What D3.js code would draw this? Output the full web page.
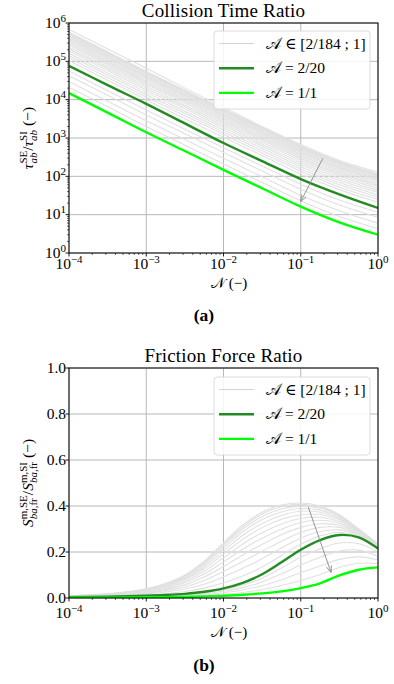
<!DOCTYPE html>
<html>
<head>
<meta charset="utf-8">
<script src="https://cdn.jsdelivr.net/npm/d3@7/dist/d3.min.js"></script>
<style>
  html, body { margin: 0; padding: 0; background: #fff; }
  svg { display: block; font-family: "Liberation Serif", "DejaVu Serif", serif; }
</style>
</head>
<body>
<svg id="fig" width="394" height="684"></svg>
<script>
// ---- Collision time ratio (log-log) ----
const nTop = [1e-4, 3.162e-4, 1e-3, 3.162e-3, 1e-2, 3.162e-2, 1e-1, 3.162e-1, 1];
const tauA2over20 = [7.6e4, 2.4e4, 7.8e3, 2.4e3, 740, 250, 85, 34, 15];
const tauA1over1  = [1.48e4, 4.6e3, 1.41e3, 457, 148, 49, 16.2, 6.3, 3.0];
// grey family, A in [2/184 ; 1], from large A (bottom) to A = 2/184 (top)
const tauFamily = [
  [2.1e4, 6.5e3, 2.0e3, 650, 210, 69, 23, 8.9, 4.3],
  [3.0e4, 9.1e3, 2.8e3, 910, 295, 98, 32, 12.6, 6.0],
  [4.2e4, 1.3e4, 4.0e3, 1.3e3, 420, 138, 46, 17.8, 8.5],
  [5.6e4, 1.7e4, 5.4e3, 1.7e3, 560, 186, 62, 24, 11.5],
  [1.05e5, 3.2e4, 1.0e4, 3.2e3, 1.05e3, 350, 115, 45, 21],
  [1.23e5, 3.8e4, 1.17e4, 3.8e3, 1.23e3, 407, 135, 52, 25],
  [1.41e5, 4.4e4, 1.35e4, 4.4e3, 1.41e3, 470, 155, 60, 29],
  [1.62e5, 5.0e4, 1.55e4, 5.0e3, 1.62e3, 537, 178, 69, 33],
  [1.86e5, 5.8e4, 1.78e4, 5.8e3, 1.86e3, 620, 204, 79, 38],
  [2.09e5, 6.5e4, 2.0e4, 6.5e3, 2.09e3, 692, 229, 89, 43],
  [2.34e5, 7.2e4, 2.24e4, 7.2e3, 2.34e3, 780, 257, 100, 48],
  [2.63e5, 8.1e4, 2.51e4, 8.1e3, 2.63e3, 871, 288, 112, 54],
  [2.88e5, 8.9e4, 2.75e4, 8.9e3, 2.88e3, 955, 316, 123, 59],
  [3.16e5, 9.8e4, 3.0e4, 9.8e3, 3.16e3, 1.05e3, 347, 135, 65],
  [3.47e5, 1.07e5, 3.3e4, 1.07e4, 3.47e3, 1.15e3, 380, 148, 71],
  [3.8e5, 1.17e5, 3.6e4, 1.17e4, 3.8e3, 1.26e3, 417, 162, 78],
  [4.07e5, 1.26e5, 3.9e4, 1.26e4, 4.07e3, 1.35e3, 447, 174, 83],
  [4.37e5, 1.35e5, 4.17e4, 1.35e4, 4.37e3, 1.45e3, 479, 186, 89],
  [4.68e5, 1.45e5, 4.47e4, 1.45e4, 4.68e3, 1.55e3, 513, 200, 95],
  [5.0e5, 1.55e5, 4.8e4, 1.55e4, 5.0e3, 1.66e3, 550, 214, 102],
  [5.25e5, 1.62e5, 5.0e4, 1.62e4, 5.25e3, 1.74e3, 575, 224, 107],
  [5.5e5, 1.7e5, 5.25e4, 1.7e4, 5.5e3, 1.82e3, 603, 234, 112],
  [5.75e5, 1.78e5, 5.5e4, 1.78e4, 5.75e3, 1.9e3, 631, 245, 117],
  [6.8e5, 2.1e5, 6.6e4, 2.0e4, 6.3e3, 2.0e3, 680, 260, 130]
];
const tauArrow = [[0.193, 295], [0.1, 22]];

// ---- Friction force ratio (log-lin), quarter-decade samples ----
const nBot = [1e-4, 1.778e-4, 3.162e-4, 5.623e-4, 1e-3, 1.778e-3, 3.162e-3, 5.623e-3, 1e-2,
              1.778e-2, 3.162e-2, 5.623e-2, 1e-1, 1.778e-1, 3.162e-1, 5.623e-1, 1];
const frA2over20 = [0.004, 0.005, 0.006, 0.008, 0.010, 0.013, 0.018, 0.027, 0.042,
                    0.066, 0.103, 0.155, 0.210, 0.252, 0.274, 0.264, 0.215];
const frA1over1  = [0.001, 0.001, 0.0015, 0.002, 0.003, 0.004, 0.005, 0.007, 0.010,
                    0.014, 0.020, 0.029, 0.043, 0.064, 0.098, 0.123, 0.133];
const frFamily = [
  [0.002, 0.002, 0.002, 0.003, 0.004, 0.006, 0.008, 0.011, 0.016, 0.024, 0.037, 0.054, 0.076, 0.102, 0.133, 0.151, 0.149],
  [0.002, 0.003, 0.003, 0.004, 0.006, 0.008, 0.010, 0.015, 0.023, 0.035, 0.053, 0.079, 0.110, 0.139, 0.168, 0.179, 0.166],
  [0.003, 0.003, 0.004, 0.006, 0.007, 0.009, 0.013, 0.019, 0.029, 0.045, 0.070, 0.105, 0.143, 0.177, 0.204, 0.208, 0.182],
  [0.003, 0.004, 0.005, 0.007, 0.009, 0.011, 0.015, 0.023, 0.036, 0.056, 0.086, 0.130, 0.177, 0.214, 0.239, 0.236, 0.199],
  [0.005, 0.006, 0.007, 0.010, 0.014, 0.019, 0.028, 0.043, 0.066, 0.096, 0.135, 0.185, 0.234, 0.270, 0.285, 0.268, 0.217],
  [0.005, 0.007, 0.009, 0.013, 0.018, 0.026, 0.039, 0.060, 0.092, 0.129, 0.171, 0.217, 0.261, 0.289, 0.296, 0.273, 0.220],
  [0.006, 0.008, 0.010, 0.015, 0.021, 0.032, 0.048, 0.076, 0.115, 0.159, 0.203, 0.247, 0.285, 0.307, 0.307, 0.277, 0.222],
  [0.006, 0.009, 0.012, 0.017, 0.024, 0.037, 0.057, 0.091, 0.137, 0.187, 0.233, 0.275, 0.307, 0.323, 0.316, 0.281, 0.225],
  [0.007, 0.010, 0.013, 0.019, 0.027, 0.042, 0.066, 0.104, 0.157, 0.212, 0.260, 0.299, 0.328, 0.338, 0.325, 0.285, 0.227],
  [0.007, 0.010, 0.014, 0.021, 0.030, 0.047, 0.073, 0.116, 0.175, 0.235, 0.284, 0.322, 0.346, 0.351, 0.333, 0.288, 0.228],
  [0.008, 0.011, 0.015, 0.022, 0.033, 0.051, 0.080, 0.127, 0.191, 0.255, 0.306, 0.342, 0.362, 0.363, 0.340, 0.291, 0.230],
  [0.008, 0.012, 0.016, 0.024, 0.035, 0.054, 0.085, 0.136, 0.204, 0.273, 0.324, 0.359, 0.377, 0.373, 0.346, 0.294, 0.231],
  [0.008, 0.012, 0.017, 0.025, 0.036, 0.057, 0.090, 0.144, 0.216, 0.288, 0.341, 0.374, 0.389, 0.382, 0.351, 0.296, 0.233],
  [0.009, 0.012, 0.017, 0.026, 0.038, 0.060, 0.094, 0.151, 0.226, 0.300, 0.354, 0.387, 0.399, 0.390, 0.356, 0.298, 0.234],
  [0.009, 0.013, 0.018, 0.026, 0.039, 0.062, 0.098, 0.156, 0.234, 0.310, 0.365, 0.397, 0.407, 0.396, 0.359, 0.299, 0.234],
  [0.009, 0.013, 0.018, 0.027, 0.040, 0.063, 0.100, 0.160, 0.240, 0.318, 0.373, 0.404, 0.413, 0.400, 0.362, 0.300, 0.235]
];
const frArrow = [[0.125, 0.396], [0.247, 0.111]];

const legendLabels = ["𝒜 ∈ [2/184 ; 1]", "𝒜 = 2/20", "𝒜 = 1/1"];
const xTickExps = [-4, -3, -2, -1, 0];
const yTopTickExps = [0, 1, 2, 3, 4, 5, 6];
const yBotTicks = [0, 0.2, 0.4, 0.6, 0.8, 1.0];

const C_DARK = "#228b22", C_LIME = "#00ff00", C_GREY = "#e0e0e0", C_GRID = "#b0b0b0";

const svg = d3.select("#fig");

// Draws a run of text pieces; each group is one piece or a stacked set (sup/sub).
function rich(parent, groups, { x, y, anchor = "middle", rotate = 0, size = 14, weight = "normal", spacing = 0 }) {
  const g = parent.append("g");
  let cx = 0;
  groups.forEach(grp => {
    const items = Array.isArray(grp) ? grp : [grp];
    let w = 0;
    items.forEach(it => {
      const t = g.append("text").attr("x", cx).attr("y", it.dy || 0)
        .attr("font-size", it.size || size).attr("font-weight", it.bold ? "bold" : weight)
        .attr("letter-spacing", spacing).attr("fill", "#000");
      const parts = it.parts || [{ t: it.t, italic: it.italic }];
      parts.forEach(p => t.append("tspan").attr("font-style", p.italic ? "italic" : "normal").text(p.t));
      w = Math.max(w, t.node().getComputedTextLength());
    });
    cx += w + (items[0].gap || 0);
  });
  const off = anchor === "middle" ? -cx / 2 : anchor === "end" ? -cx : 0;
  g.selectAll("text").attr("x", function () { return +this.getAttribute("x") + off; });
  g.attr("transform", `translate(${x},${y}) rotate(${rotate})`);
  return g;
}

function powLabel(parent, exp, opts) {
  const e = exp < 0 ? "−" + Math.abs(exp) : String(exp);
  return rich(parent, [{ t: "10" }, { t: e, size: 11, dy: -6 }], Object.assign({ size: 15.5 }, opts));
}

function drawPanel(cfg) {
  const { top, bottom, left, right, y, title, yTicks, yTickFmt, yMinor } = cfg;
  const x = d3.scaleLog().domain([1e-4, 1]).range([left, right]);
  const g = svg.append("g");

  // grid
  xTickExps.forEach(e => g.append("line").attr("x1", x(10 ** e)).attr("x2", x(10 ** e))
    .attr("y1", top).attr("y2", bottom).attr("stroke", C_GRID).attr("stroke-width", 0.9));
  yTicks.forEach(v => g.append("line").attr("x1", left).attr("x2", right)
    .attr("y1", y(v)).attr("y2", y(v)).attr("stroke", C_GRID).attr("stroke-width", 0.9));

  const clip = "clip" + top;
  svg.append("clipPath").attr("id", clip).append("rect")
    .attr("x", left).attr("y", top).attr("width", right - left).attr("height", bottom - top);
  const plot = g.append("g").attr("clip-path", `url(#${clip})`);

  const line = d3.line().x(d => x(d[0])).y(d => y(d[1])).curve(d3.curveCatmullRom.alpha(0.5));
  const pts = vals => cfg.n.map((nv, i) => [nv, vals[i]]);

  cfg.family.forEach(row => plot.append("path").attr("d", line(pts(row)))
    .attr("fill", "none").attr("stroke", C_GREY).attr("stroke-width", 1.1));
  plot.append("path").attr("d", line(pts(cfg.dark))).attr("fill", "none")
    .attr("stroke", C_DARK).attr("stroke-width", 2.4);
  plot.append("path").attr("d", line(pts(cfg.lime))).attr("fill", "none")
    .attr("stroke", C_LIME).attr("stroke-width", 2.4);

  // arrow
  const [a0, a1] = cfg.arrow;
  const x0 = x(a0[0]), y0 = y(a0[1]), x1 = x(a1[0]), y1 = y(a1[1]);
  const ang = Math.atan2(y1 - y0, x1 - x0), hl = 7, ha = 0.38;
  plot.append("path")
    .attr("d", `M${x0},${y0}L${x1},${y1}M${x1 - hl * Math.cos(ang - ha)},${y1 - hl * Math.sin(ang - ha)}L${x1},${y1}L${x1 - hl * Math.cos(ang + ha)},${y1 - hl * Math.sin(ang + ha)}`)
    .attr("fill", "none").attr("stroke", "#888").attr("stroke-width", 0.9);

  // frame
  g.append("rect").attr("x", left).attr("y", top).attr("width", right - left).attr("height", bottom - top)
    .attr("fill", "none").attr("stroke", "#000").attr("stroke-width", 1);

  // x ticks
  xTickExps.forEach(e => {
    g.append("line").attr("x1", x(10 ** e)).attr("x2", x(10 ** e)).attr("y1", bottom).attr("y2", bottom + 3.5)
      .attr("stroke", "#000").attr("stroke-width", 0.9);
    powLabel(g, e, { x: x(10 ** e), y: bottom + cfg.tickPad });
    if (e < 0) for (let k = 2; k <= 9; k++) {
      const xv = x(k * 10 ** e);
      g.append("line").attr("x1", xv).attr("x2", xv).attr("y1", bottom).attr("y2", bottom + 2)
        .attr("stroke", "#000").attr("stroke-width", 0.6);
    }
  });
  // y ticks
  yTicks.forEach(v => {
    g.append("line").attr("x1", left - 3.5).attr("x2", left).attr("y1", y(v)).attr("y2", y(v))
      .attr("stroke", "#000").attr("stroke-width", 0.9);
    yTickFmt(g, v, { x: left - 3, y: y(v) + 4.5, anchor: "end" });
  });
  if (yMinor) yMinor.forEach(v => g.append("line").attr("x1", left - 2).attr("x2", left)
    .attr("y1", y(v)).attr("y2", y(v)).attr("stroke", "#000").attr("stroke-width", 0.6));

  // title, axis labels, panel tag
  rich(g, [{ t: title }], { x: (left + right) / 2, y: top - 6, size: 19, spacing: 0.2 });
  rich(g, [{ t: "𝒩", gap: 4 }, { t: "(−)" }], { x: 229, y: bottom + cfg.tickPad + 19, size: 15 });
  rich(g, cfg.ylabel, { x: 33, y: (top + bottom) / 2, rotate: -90, size: 15.5 });
  rich(g, [{ t: cfg.tag, bold: true }], { x: 204, y: cfg.tagY, size: 17.5 });

  // legend
  const lx = 214, ly = cfg.legendTop, lw = 156, lh = 78;
  g.append("rect").attr("x", lx).attr("y", ly).attr("width", lw).attr("height", lh).attr("rx", 3)
    .attr("fill", "#fff").attr("fill-opacity", 0.85).attr("stroke", "#d3d3d3").attr("stroke-width", 0.8);
  const styles = [["#cfcfcf", 0.9], [C_DARK, 2.4], [C_LIME, 2.4]];
  legendLabels.forEach((lab, i) => {
    const yy = ly + 12.5 + i * 24.7;
    g.append("line").attr("x1", lx + 5).attr("x2", lx + 40).attr("y1", yy).attr("y2", yy)
      .attr("stroke", styles[i][0]).attr("stroke-width", styles[i][1]);
    rich(g, [{ t: lab }], { x: lx + 52, y: yy + 5, anchor: "start", size: 15.5 });
  });
}

// Panel (a)
const yTop = d3.scaleLog().domain([1, 1e6]).range([253, 23]);
const yTopMinor = [];
yTopTickExps.slice(0, -1).forEach(e => { for (let k = 2; k <= 9; k++) yTopMinor.push(k * 10 ** e); });
drawPanel({
  top: 23, bottom: 253, left: 69, right: 378, y: yTop, title: "Collision Time Ratio",
  yTicks: yTopTickExps.map(e => 10 ** e),
  yTickFmt: (g, v, o) => powLabel(g, Math.round(Math.log10(v)), o),
  yMinor: yTopMinor, tickPad: 16,
  n: nTop, family: tauFamily, dark: tauA2over20, lime: tauA1over1, arrow: tauArrow,
  ylabel: [
    { t: "τ", italic: true },
    [{ t: "SE", size: 11, dy: -6 }, { parts: [{ t: "ab", italic: true }], size: 11, dy: 4 }],
    { t: "/" },
    { t: "τ", italic: true },
    [{ t: "SI", size: 11, dy: -6, gap: 4 }, { parts: [{ t: "ab", italic: true }], size: 11, dy: 4, gap: 4 }],
    { t: "(−)" }
  ],
  tag: "(a)", tagY: 321, legendTop: 31
});

// Panel (b)
const yBot = d3.scaleLinear().domain([0, 1]).range([598, 368]);
drawPanel({
  top: 368, bottom: 598, left: 69, right: 378, y: yBot, title: "Friction Force Ratio",
  yTicks: yBotTicks,
  yTickFmt: (g, v, o) => rich(g, [{ t: v.toFixed(1) }], Object.assign({ size: 15.5 }, o)),
  yMinor: null, tickPad: 20,
  n: nBot, family: frFamily, dark: frA2over20, lime: frA1over1, arrow: frArrow,
  ylabel: [
    { t: "S", italic: true },
    [{ t: "m,SE", size: 11, dy: -6 }, { parts: [{ t: "ba", italic: true }, { t: ",fr" }], size: 11, dy: 4 }],
    { t: "/" },
    { t: "S", italic: true },
    [{ t: "m,SI", size: 11, dy: -6, gap: 4 }, { parts: [{ t: "ba", italic: true }, { t: ",fr" }], size: 11, dy: 4, gap: 4 }],
    { t: "(−)" }
  ],
  tag: "(b)", tagY: 671, legendTop: 377
});
</script>
</body>
</html>
